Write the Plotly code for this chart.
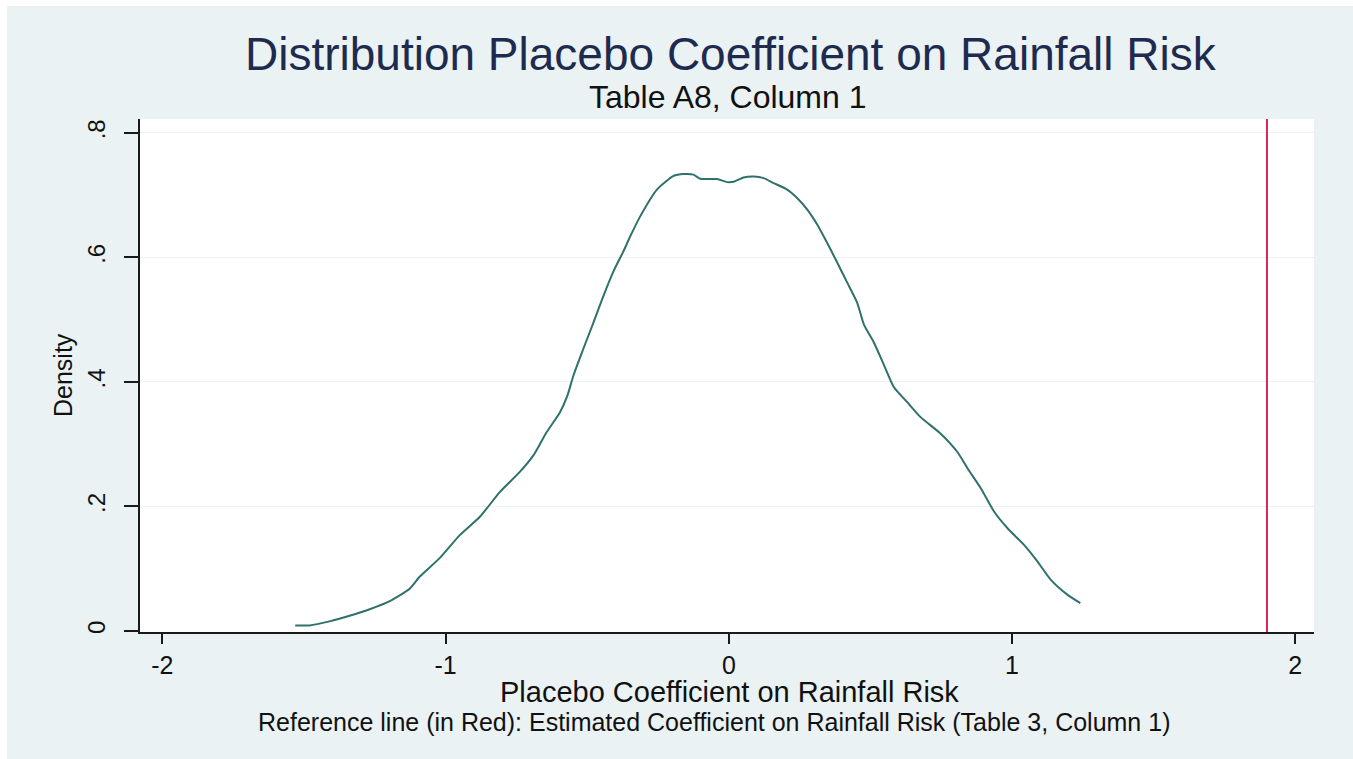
import plotly.graph_objects as go

# ---- data ----
coef_x = [-1.531, -1.480, -1.410, -1.339, -1.268, -1.197, -1.127, -1.091, -1.021, -0.950,
          -0.879, -0.808, -0.738, -0.690, -0.643, -0.596, -0.570, -0.549, -0.514, -0.478,
          -0.443, -0.407, -0.372, -0.348, -0.313, -0.254, -0.195, -0.160, -0.125, -0.101,
          -0.042, -0.006, 0.017, 0.052, 0.088, 0.123, 0.158, 0.206, 0.241, 0.277,
          0.312, 0.347, 0.383, 0.418, 0.453, 0.477, 0.512, 0.545, 0.583, 0.630,
          0.677, 0.748, 0.807, 0.843, 0.890, 0.937, 0.984, 1.043, 1.090, 1.137,
          1.196, 1.241]
density = [0.009, 0.009, 0.0155, 0.0245, 0.035, 0.048, 0.068, 0.0875, 0.117, 0.154,
           0.1835, 0.2235, 0.2555, 0.282, 0.3195, 0.3515, 0.378, 0.410, 0.453, 0.4955,
           0.538, 0.578, 0.610, 0.634, 0.666, 0.709, 0.731, 0.734, 0.733, 0.7265,
           0.726, 0.721, 0.7215, 0.7285, 0.730, 0.7275, 0.7195, 0.709, 0.6955, 0.677,
           0.653, 0.6235, 0.5915, 0.5595, 0.5275, 0.492, 0.4635, 0.430, 0.3915, 0.3675,
           0.3435, 0.317, 0.2875, 0.261, 0.229, 0.1915, 0.165, 0.138, 0.1115, 0.082,
           0.058, 0.0448]
reference_coef = 1.9

x_ticks = [-2, -1, 0, 1, 2]
x_tick_labels = ["-2", "-1", "0", "1", "2"]
y_ticks = [0, 0.2, 0.4, 0.6, 0.8]
y_tick_labels = ["0", ".2", ".4", ".6", ".8"]

title_text = "Distribution Placebo Coefficient on Rainfall Risk"
subtitle_text = "Table A8, Column 1"
x_title = "Placebo Coefficient on Rainfall Risk"
y_title = "Density"
note_text = "Reference line (in Red): Estimated Coefficient on Rainfall Risk (Table 3, Column 1)"

# ---- layout geometry (pixels) ----
W, H = 1353, 759
L, R, T, B = 140, 1314, 119, 632
pw, ph = R - L, B - T

def px_x(p):
    return (p - L) / pw

def px_y(p):
    return (B - p) / ph

BG = "#EAF2F3"
FONT = "Liberation Sans, Arial, sans-serif"
TXT = "#111111"

fig = go.Figure()
fig.add_trace(go.Scatter(
    x=coef_x, y=density, mode="lines",
    line=dict(color="#2F716C", width=2, shape="spline", smoothing=0.6),
    showlegend=False, hoverinfo="x+y"))

# reference line
fig.add_shape(type="line", xref="x", yref="paper",
              x0=reference_coef, x1=reference_coef, y0=0, y1=1,
              line=dict(color="#D42A5B", width=2), layer="above")

# white strips at top/left edge of the image
fig.add_shape(type="rect", xref="paper", yref="paper",
              x0=px_x(0), x1=px_x(7), y0=px_y(W), y1=px_y(0),
              fillcolor="white", line=dict(width=0), layer="below")
fig.add_shape(type="rect", xref="paper", yref="paper",
              x0=px_x(0), x1=px_x(W), y0=px_y(6), y1=px_y(0),
              fillcolor="white", line=dict(width=0), layer="below")

annotations = [
    dict(text=title_text, x=px_x(730.5), y=px_y(54), font=dict(size=46, color="#1E2B4F", family=FONT)),
    dict(text=subtitle_text, x=px_x(727.5), y=px_y(97), font=dict(size=32, color=TXT, family=FONT)),
    dict(text=x_title, x=px_x(730), y=px_y(692), font=dict(size=29, color=TXT, family=FONT)),
    dict(text=note_text, x=px_x(714), y=px_y(722), font=dict(size=25, color=TXT, family=FONT)),
    dict(text=y_title, x=px_x(63), y=px_y(375), textangle=-90, font=dict(size=25, color=TXT, family=FONT)),
]
for a in annotations:
    a.update(xref="paper", yref="paper", showarrow=False, xanchor="center", yanchor="middle")

fig.update_layout(
    width=W, height=H,
    margin=dict(l=L, r=W - R, t=T, b=H - B, pad=0),
    paper_bgcolor=BG, plot_bgcolor="white",
    annotations=annotations,
    showlegend=False,
    font=dict(family=FONT, color=TXT),
)
fig.update_xaxes(
    range=[-2.079, 2.066], tickvals=x_ticks, ticktext=x_tick_labels,
    showgrid=False, zeroline=False, showline=True, linecolor="#1a1a1a", linewidth=1.5,
    ticks="outside", ticklen=10, tickwidth=1.5, tickcolor="#1a1a1a",
    tickfont=dict(size=25, color=TXT, family=FONT), ticklabelstandoff=0,
)
fig.update_yaxes(
    range=[-0.0016, 0.8224], tickvals=y_ticks, ticktext=y_tick_labels,
    showgrid=True, gridcolor=BG, gridwidth=1, zeroline=False,
    showline=True, linecolor="#1a1a1a", linewidth=1.5,
    ticks="outside", ticklen=14, tickwidth=1.5, tickcolor="#1a1a1a",
    tickangle=-90, tickfont=dict(size=24, color=TXT, family=FONT), ticklabelstandoff=10,
)

fig.write_html("out.html")
